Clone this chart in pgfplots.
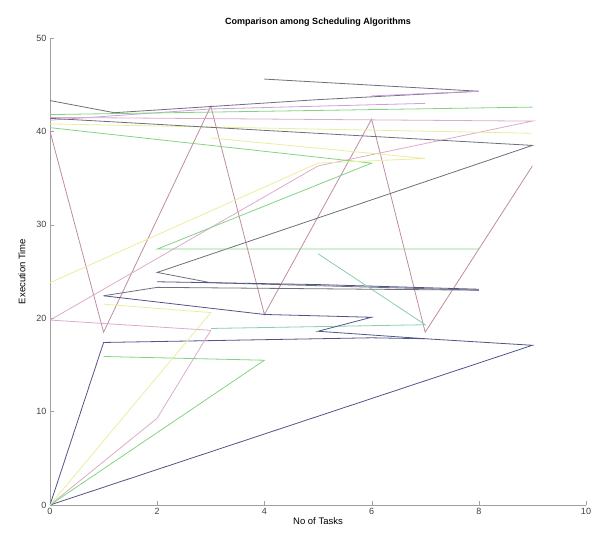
\documentclass[border=0pt]{standalone}
\usepackage{fontspec}
\setmainfont{Liberation Sans}
\usepackage{pgfplots}
\pgfplotsset{compat=1.18}
\definecolor{maroon}{RGB}{190,140,160}
\definecolor{navy}{RGB}{80,85,135}
\definecolor{dgray}{RGB}{110,110,125}
\definecolor{purp}{RGB}{205,160,220}
\definecolor{grn}{RGB}{130,212,130}
\definecolor{ylw}{RGB}{232,238,155}
\definecolor{pnk}{RGB}{220,170,205}
\definecolor{teal}{RGB}{135,208,170}
\definecolor{axgray}{RGB}{160,160,160}
\begin{document}
\begin{tikzpicture}
\begin{axis}[
  name=ax,
  scale only axis, width=536pt, height=467pt,
  xmin=0, xmax=10, ymin=0, ymax=50,
  xtick={0,2,...,10}, ytick={0,10,...,50},
  axis lines*=left,
  axis line style={axgray, line width=0.9pt},
  tick style={axgray},
  tick align=inside,
  major tick length=4pt,
  tick label style={font=\fontsize{9}{10}\selectfont, text=black!75},
  /pgf/number format/assume math mode=true,
  title={\bfseries\fontsize{9}{10}\selectfont Comparison among Scheduling Algorithms},
  title style={yshift=2pt},
  xlabel={\fontsize{9.5}{10}\selectfont No of Tasks},
  ylabel={\fontsize{9.5}{10}\selectfont Execution Time},
  ylabel style={yshift=4pt},
  xlabel style={yshift=4pt},
  every axis plot/.append style={line width=0.8pt, mark=none},
]
\addplot[maroon] coordinates {(0,40)(1,18.5)(3,42.7)(4,20.4)(6,41.3)(7,18.5)(9,36.3)};
\addplot[navy] coordinates {(0,0)(1,17.4)(6,17.9)(7,17.8)(9,17.1)(0,0)};
\addplot[dgray] coordinates {(0,43.3)(1.2,42.0)(5,43.4)(8,44.3)(4,45.6)};
\addplot[purp] coordinates {(0,41.2)(3,42.4)(7,43.0)};
\addplot[purp] coordinates {(6,43.8)(8,44.3)};
\addplot[grn] coordinates {(0,41.8)(9,42.6)};
\addplot[pnk] coordinates {(0,41.5)(9,41.1)(5,36.3)(0,19.8)(3,18.7)(2,9.3)(0,0)};
\addplot[ylw] coordinates {(0,40.8)(9,39.8)};
\addplot[dgray] coordinates {(0,41.4)(9,38.5)(2,24.9)(3,23.8)(8,23.0)};
\addplot[navy] coordinates {(2,23.9)(5,23.6)(8,23.1)};
\addplot[grn] coordinates {(0,40.4)(6,36.6)(2,27.4)(8,27.4)};
\addplot[teal] coordinates {(5,26.9)(7,19.3)(3,18.9)};
\addplot[grn] coordinates {(0,0)(4,15.5)(1,15.9)};
\addplot[navy] coordinates {(1,22.4)(4,20.4)(6,20.1)(5,18.6)(7,17.8)};
\addplot[ylw] coordinates {(0,23.8)(5,36.6)(7,37.1)(3,39.3)};
\addplot[ylw] coordinates {(0,0)(3,20.6)(1,21.5)};
\addplot[dgray] coordinates {(1,22.4)(2,23.3)(8,23.0)};
\end{axis}
\pgfresetboundingbox
\path ([xshift=-50pt,yshift=-39pt]ax.south west) rectangle ([xshift=6pt,yshift=38pt]ax.north east);
\end{tikzpicture}
\end{document}
